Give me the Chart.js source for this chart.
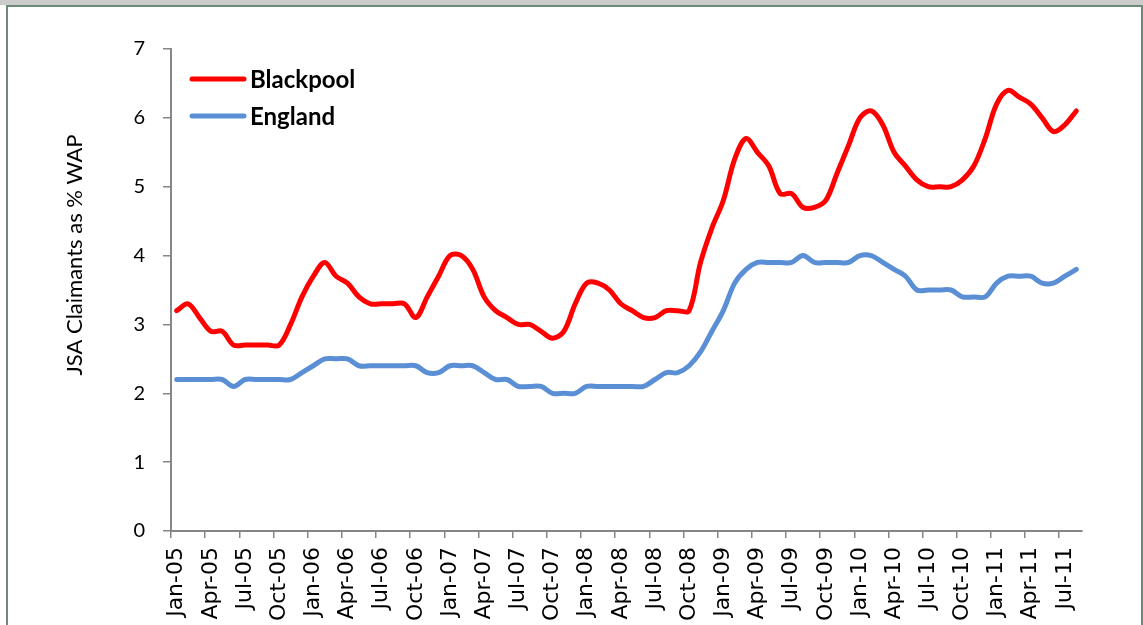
<!DOCTYPE html>
<html>
<head>
<meta charset="utf-8">
<script src="https://cdn.jsdelivr.net/npm/chart.js@4.4.1/dist/chart.umd.min.js"></script>
<style>
  html, body { margin: 0; padding: 0; background: #fff; overflow: hidden; }
  #strip { position: absolute; left: 0; top: 0; width: 1143px; height: 5px; background: #cccccc; }
  #frame { position: absolute; left: 6px; top: 5px; width: 1133px; height: 640px;
           border: 2px solid #6e8a79; border-bottom: none; }
  #c { position: absolute; left: 0; top: 0; }
</style>
</head>
<body>
<div id="strip"></div>
<div id="frame"></div>
<canvas id="c" width="1143" height="625"></canvas>
<script>
var months = [
  'Jan-05','Feb-05','Mar-05','Apr-05','May-05','Jun-05','Jul-05','Aug-05','Sep-05','Oct-05','Nov-05','Dec-05',
  'Jan-06','Feb-06','Mar-06','Apr-06','May-06','Jun-06','Jul-06','Aug-06','Sep-06','Oct-06','Nov-06','Dec-06',
  'Jan-07','Feb-07','Mar-07','Apr-07','May-07','Jun-07','Jul-07','Aug-07','Sep-07','Oct-07','Nov-07','Dec-07',
  'Jan-08','Feb-08','Mar-08','Apr-08','May-08','Jun-08','Jul-08','Aug-08','Sep-08','Oct-08','Nov-08','Dec-08',
  'Jan-09','Feb-09','Mar-09','Apr-09','May-09','Jun-09','Jul-09','Aug-09','Sep-09','Oct-09','Nov-09','Dec-09',
  'Jan-10','Feb-10','Mar-10','Apr-10','May-10','Jun-10','Jul-10','Aug-10','Sep-10','Oct-10','Nov-10','Dec-10',
  'Jan-11','Feb-11','Mar-11','Apr-11','May-11','Jun-11','Jul-11','Aug-11'
];

var blackpool = [
  3.2,3.3,3.1,2.9,2.9,2.7,2.7,2.7,2.7,2.7,3.0,3.4,
  3.7,3.9,3.7,3.6,3.4,3.3,3.3,3.3,3.3,3.1,3.4,3.7,
  4.0,4.0,3.8,3.4,3.2,3.1,3.0,3.0,2.9,2.8,2.9,3.3,
  3.6,3.6,3.5,3.3,3.2,3.1,3.1,3.2,3.2,3.2,3.9,4.4,
  4.8,5.4,5.7,5.5,5.3,4.9,4.9,4.7,4.7,4.8,5.2,5.6,
  6.0,6.1,5.9,5.5,5.3,5.1,5.0,5.0,5.0,5.1,5.3,5.7,
  6.2,6.4,6.3,6.2,6.0,5.8,5.9,6.1
];

var england = [
  2.2,2.2,2.2,2.2,2.2,2.1,2.2,2.2,2.2,2.2,2.2,2.3,
  2.4,2.5,2.5,2.5,2.4,2.4,2.4,2.4,2.4,2.4,2.3,2.3,
  2.4,2.4,2.4,2.3,2.2,2.2,2.1,2.1,2.1,2.0,2.0,2.0,
  2.1,2.1,2.1,2.1,2.1,2.1,2.2,2.3,2.3,2.4,2.6,2.9,
  3.2,3.6,3.8,3.9,3.9,3.9,3.9,4.0,3.9,3.9,3.9,3.9,
  4.0,4.0,3.9,3.8,3.7,3.5,3.5,3.5,3.5,3.4,3.4,3.4,
  3.6,3.7,3.7,3.7,3.6,3.6,3.7,3.8
];

var yTicks = [0, 1, 2, 3, 4, 5, 6, 7];
var yTitle = 'JSA Claimants as % WAP';

var axisGrey = '#868686';

// legend + axis title drawn by hand so they can sit where Excel put them
var extras = {
  id: 'extras',
  afterDraw: function(chart){
    var ctx = chart.ctx, area = chart.chartArea;
    ctx.save();
    ctx.font = 'bold 24px Lato';
    ctx.textBaseline = 'middle';
    ctx.lineCap = 'round';
    chart.data.datasets.forEach(function(ds, k){
      var y = area.top + 30 + k * 37;
      ctx.strokeStyle = ds.borderColor;
      ctx.lineWidth = 5;
      ctx.beginPath();
      ctx.moveTo(area.left + 21, y);
      ctx.lineTo(area.left + 73, y);
      ctx.stroke();
      ctx.fillStyle = '#000';
      ctx.fillText(ds.label, area.left + 79, y + 1);
    });
    ctx.translate(75, 255);
    ctx.rotate(-Math.PI / 2);
    ctx.font = '22px Lato';
    ctx.textAlign = 'center';
    ctx.fillText(yTitle, 0, 0);
    ctx.restore();
  }
};

var chart = new Chart(document.getElementById('c').getContext('2d'), {
  type: 'line',
  data: {
    labels: months,
    datasets: [{
      label: 'Blackpool',
      data: blackpool,
      borderColor: '#ff0000',
      borderWidth: 5,
      tension: 0.35,
      pointRadius: 0,
      borderCapStyle: 'round',
      borderJoinStyle: 'round'
    },{
      label: 'England',
      data: england,
      borderColor: '#5a8fd6',
      borderWidth: 5,
      tension: 0.35,
      pointRadius: 0,
      borderCapStyle: 'round',
      borderJoinStyle: 'round'
    }]
  },
  options: {
    responsive: false,
    animation: false,
    layout: { padding: { left: 0, right: 61, top: 49, bottom: 0 } },
    plugins: { legend: { display: false }, tooltip: { enabled: false } },
    scales: {
      x: {
        offset: true,
        afterFit: function(s){ s.height = 94; },
        border: { color: axisGrey, width: 2 },
        grid: {
          offset: true,
          drawOnChartArea: false,
          tickLength: 7,
          lineWidth: 1.5,
          color: function(c){ return c.index % 3 === 0 ? axisGrey : 'rgba(0,0,0,0)'; }
        },
        ticks: {
          autoSkip: false,
          maxRotation: 90,
          minRotation: 90,
          padding: 9,
          color: '#000',
          font: { family: 'DejaVu Sans', size: 22 },
          callback: function(v, i){ return i % 3 === 0 ? months[i] : ''; }
        }
      },
      y: {
        min: yTicks[0],
        max: yTicks[yTicks.length - 1],
        afterFit: function(s){ s.width = 171; },
        afterBuildTicks: function(s){ s.ticks = yTicks.map(function(v){ return { value: v }; }); },
        border: { color: axisGrey, width: 2 },
        grid: { drawOnChartArea: false, tickLength: 8, lineWidth: 1.5, color: axisGrey },
        ticks: {
          padding: 18,
          color: '#000',
          font: { family: 'Lato', size: 20 }
        }
      }
    }
  },
  plugins: [extras]
});
</script>
</body>
</html>
